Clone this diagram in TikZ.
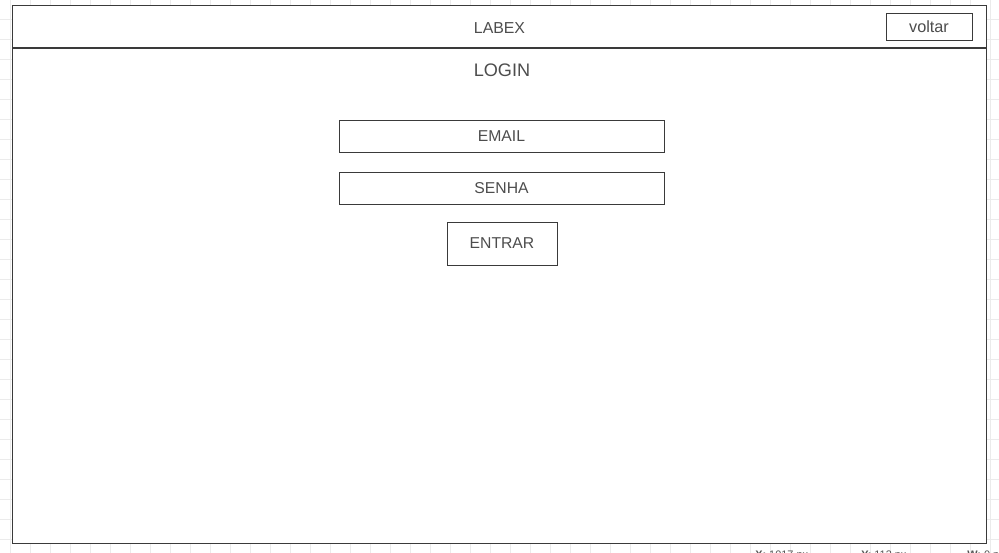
\documentclass[tikz,border=0pt]{standalone}
\usepackage{fontspec}
\setmainfont{Liberation Sans}
\definecolor{gridc}{HTML}{EBEBEB}
\definecolor{linec}{HTML}{3A3A3A}
\definecolor{txtc}{HTML}{4D4D4D}
\definecolor{statc}{HTML}{555555}
\begin{document}
\begin{tikzpicture}[x=0.75pt,y=-0.75pt,
  frame/.style={draw=linec,line width=0.8pt},
  field/.style={draw=linec,line width=0.75pt,fill=white,inner sep=0pt,text=txtc,font=\fontsize{11.8pt}{13pt}\selectfont},
  lbl/.style={text=txtc,inner sep=0pt},
  stat/.style={text=statc,inner sep=0pt,anchor=base west,font=\fontsize{8.2pt}{10pt}\selectfont}]
\useasboundingbox (0,0) rectangle (999,553);
\clip (0,0) rectangle (999,553);
% grid
\foreach \gx in {10,30,...,990} \draw[gridc,line width=0.6pt] (\gx,0) -- (\gx,553);
\foreach \gy in {19.5,39.5,...,553} \draw[gridc,line width=0.6pt] (0,\gy) -- (999,\gy);
% window frame
\node[frame,fill=white,minimum width=974*0.75pt,minimum height=538*0.75pt,inner sep=0pt,anchor=north west] (win) at (12,5) {};
\coordinate (hl) at (12,48);
\coordinate (hr) at (986,48);
\draw[frame] (hl) -- (hr);
\node[lbl,font=\fontsize{11.9pt}{13pt}\selectfont] (title) at (499.5,28) {LABEX};
\node[field,font=\fontsize{12.2pt}{13pt}\selectfont,minimum width=86*0.75pt,minimum height=27*0.75pt] (voltar) at (929,26.5) {voltar};
\node[lbl,font=\fontsize{13.6pt}{15pt}\selectfont] (login) at (502,70.5) {LOGIN};
\node[field,minimum width=325*0.75pt,minimum height=32*0.75pt] (email) at (501.5,136) {EMAIL};
\node[field,minimum width=325*0.75pt,minimum height=32*0.75pt] (senha) at (501.5,188) {SENHA};
\node[field,minimum width=110*0.75pt,minimum height=43*0.75pt] (entrar) at (502,243.5) {ENTRAR};
% status bar (clipped, as in the reference)
\node[stat] (sx) at (755,558) {\textbf{X:} 1017 px};
\node[stat] (sy) at (861,558) {\textbf{Y:} 113 px};
\node[stat] (sw) at (967,558) {\textbf{W:} 0 px};
\end{tikzpicture}
\end{document}
